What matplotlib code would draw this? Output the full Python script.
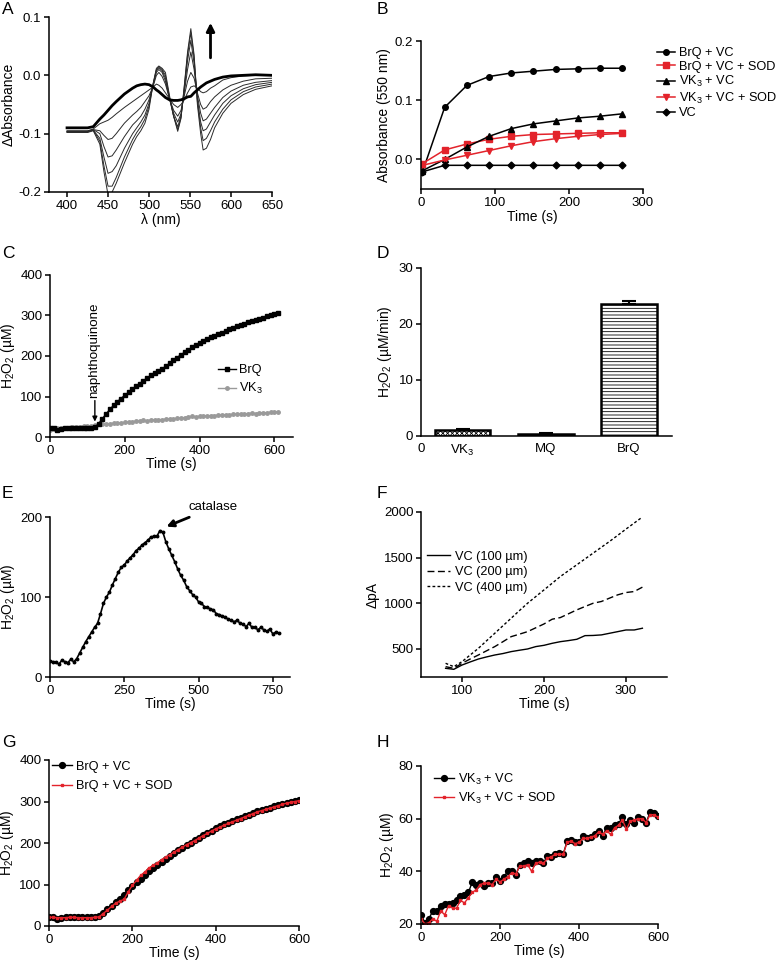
import numpy as np
import matplotlib
matplotlib.use("Agg")
import matplotlib.pyplot as plt

plt.rcParams.update({
    'font.family': ['Liberation Sans', 'DejaVu Sans'],
    'font.size': 9.5,
    'axes.labelsize': 10,
    'xtick.labelsize': 9.5,
    'ytick.labelsize': 9.5,
    'axes.linewidth': 1.1,
    'xtick.major.width': 1.1,
    'ytick.major.width': 1.1,
    'xtick.major.size': 3.5,
    'ytick.major.size': 3.5,
    'xtick.major.pad': 2,
    'ytick.major.pad': 2,
    'axes.unicode_minus': False,
    'mathtext.fontset': 'custom',
    'mathtext.rm': 'Liberation Sans',
    'mathtext.it': 'Liberation Sans:italic',
    'mathtext.bf': 'Liberation Sans:bold',
    'hatch.linewidth': 0.6,
})

RED = '#e3232b'
LEG_FS = 9.2

# ---------------- Panel A data ----------------
wl = [400, 425, 432, 440, 445, 450, 455, 460, 470, 480, 485, 490, 495, 500, 505, 509, 512, 516, 520, 525,
      530, 535, 539, 543, 547, 551, 555, 559, 563, 566, 570, 575, 580, 590, 600, 615, 630, 650]
spec_thick = [-0.090, -0.090, -0.088, -0.075, -0.068, -0.060, -0.052, -0.045, -0.032, -0.022,
              -0.018, -0.016, -0.015, -0.016, -0.020, -0.025, -0.028, -0.033, -0.038, -0.042,
              -0.043, -0.043, -0.042, -0.040, -0.037, -0.036, -0.030, -0.025, -0.020, -0.017,
              -0.013, -0.010, -0.007, -0.003, -0.001, 0.000, 0.001, 0.000]
spec_1 = [-0.095, -0.095, -0.092, -0.083, -0.080, -0.077, -0.072, -0.066, -0.055, -0.045,
          -0.040, -0.035, -0.030, -0.025, -0.020, -0.015, -0.017, -0.022, -0.030, -0.040,
          -0.050, -0.055, -0.050, -0.042, -0.030, -0.020, -0.018, -0.022, -0.028, -0.030,
          -0.028, -0.022, -0.018, -0.008, -0.004, -0.001, 0.000, 0.000]
spec_2 = [-0.096, -0.096, -0.093, -0.095, -0.103, -0.110, -0.108, -0.100, -0.082, -0.068,
          -0.062, -0.055, -0.045, -0.035, -0.019, 0.000, 0.005, -0.002, -0.015, -0.040,
          -0.060, -0.070, -0.060, -0.035, -0.010, 0.005, -0.005, -0.030, -0.050, -0.058,
          -0.055, -0.045, -0.037, -0.025, -0.017, -0.010, -0.006, -0.005]
spec_3 = [-0.096, -0.096, -0.093, -0.100, -0.122, -0.140, -0.138, -0.128, -0.105, -0.085,
          -0.078, -0.070, -0.058, -0.042, -0.017, 0.005, 0.010, 0.005, -0.010, -0.040,
          -0.065, -0.080, -0.066, -0.030, 0.010, 0.040, 0.010, -0.035, -0.065, -0.078,
          -0.075, -0.065, -0.055, -0.038, -0.027, -0.017, -0.012, -0.009]
spec_4 = [-0.097, -0.097, -0.094, -0.108, -0.140, -0.168, -0.165, -0.155, -0.125, -0.100,
          -0.090, -0.080, -0.068, -0.048, -0.016, 0.008, 0.013, 0.008, -0.005, -0.040,
          -0.070, -0.088, -0.070, -0.025, 0.025, 0.060, 0.020, -0.040, -0.080, -0.095,
          -0.092, -0.080, -0.068, -0.048, -0.035, -0.023, -0.016, -0.012]
spec_5 = [-0.097, -0.097, -0.094, -0.113, -0.155, -0.190, -0.190, -0.175, -0.140, -0.110,
          -0.098, -0.088, -0.075, -0.053, -0.015, 0.010, 0.015, 0.010, 0.000, -0.038,
          -0.070, -0.093, -0.072, -0.020, 0.035, 0.073, 0.030, -0.045, -0.090, -0.112,
          -0.108, -0.095, -0.080, -0.058, -0.042, -0.028, -0.020, -0.015]
spec_6 = [-0.098, -0.098, -0.095, -0.118, -0.165, -0.205, -0.200, -0.185, -0.150, -0.118,
          -0.105, -0.095, -0.082, -0.058, -0.014, 0.012, 0.016, 0.012, 0.005, -0.035,
          -0.070, -0.096, -0.074, -0.018, 0.040, 0.080, 0.035, -0.050, -0.100, -0.128,
          -0.125, -0.110, -0.090, -0.065, -0.048, -0.033, -0.024, -0.018]

# ---------------- Panel B data ----------------
tB = [2, 32, 62, 92, 122, 152, 182, 212, 242, 272]
B_brq_vc = [-0.021, 0.088, 0.125, 0.140, 0.146, 0.149, 0.152, 0.153, 0.154, 0.154]
B_brq_vc_sod = [-0.007, 0.016, 0.026, 0.034, 0.039, 0.042, 0.043, 0.044, 0.045, 0.045]
B_vk3_vc = [-0.019, 0.000, 0.021, 0.039, 0.052, 0.060, 0.065, 0.070, 0.073, 0.077]
B_vk3_vc_sod = [-0.010, -0.001, 0.007, 0.015, 0.023, 0.030, 0.035, 0.039, 0.042, 0.044]
B_vc = [-0.021, -0.010, -0.010, -0.010, -0.010, -0.010, -0.010, -0.010, -0.010, -0.010]

# ---------------- Panel C data ----------------
tC = list(range(0, 611, 10))
C_brq = [22, 21, 18, 20, 21, 21, 21, 22, 22, 22,
         23, 23, 24, 33, 45, 57, 68, 78, 87, 95,
         103, 110, 118, 125, 132, 139, 146, 152, 157, 162,
         168, 175, 182, 189, 196, 203, 209, 215, 221, 227,
         232, 237, 242, 246, 250, 254, 258, 262, 266, 270,
         274, 277, 280, 283, 286, 289, 292, 295, 298, 300,
         303, 305]
C_vk3 = [18, 20, 21, 22, 23, 23, 24, 25, 25, 26,
         27, 28, 30, 31, 32, 33, 33, 34, 35, 35,
         36, 37, 38, 39, 40, 41, 40, 42, 42, 43,
         43, 44, 45, 45, 46, 47, 48, 50, 51, 50,
         51, 52, 52, 53, 53, 54, 54, 55, 55, 56,
         56, 57, 57, 58, 59, 58, 59, 60, 60, 61,
         62, 62]

# ---------------- Panel D data ----------------
D_cats = ['VK$_3$', 'MQ', 'BrQ']
D_vals = [1.1, 0.4, 23.5]
D_err = [0.15, 0.15, 0.6]

# ---------------- Panel E data ----------------
tE = list(range(0, 771, 10))
E_h2o2 = [20, 19, 19, 16, 21, 19, 18, 22, 19, 23,
          30, 37, 44, 50, 56, 62, 67, 79, 92, 100,
          106, 115, 123, 131, 137, 140, 145, 149, 153, 158,
          161, 165, 168, 171, 175, 176, 176, 183, 181, 169,
          160, 152, 144, 135, 127, 121, 113, 108, 103, 100,
          94, 92, 88, 87, 85, 84, 79, 78, 76, 75,
          72, 71, 69, 71, 67, 66, 63, 67, 62, 62,
          59, 62, 59, 57, 60, 54, 56, 55]

# ---------------- Panel F data ----------------
tF = list(range(80, 321, 10))
F_vc100 = [288, 277, 324, 358, 390, 413, 434, 450, 471, 486, 500, 526, 540,
           562, 580, 592, 606, 646, 648, 654, 672, 690, 708, 708, 727]
F_vc200 = [306, 288, 343, 390, 434, 480, 526, 580, 635, 662, 690, 732, 774,
           826, 844, 886, 928, 965, 1001, 1020, 1057, 1093, 1118, 1129, 1177]
F_vc400 = [343, 306, 361, 434, 507, 590, 672, 755, 837, 920, 1001, 1074, 1147,
           1220, 1294, 1358, 1422, 1486, 1550, 1614, 1678, 1745, 1813, 1879, 1945]

# ---------------- Panel G data ----------------
tG = list(range(0, 601, 10))
G_brq_vc = [22, 22, 18, 20, 21, 21, 21, 21, 22, 22,
            22, 22, 24, 32, 40, 48, 57, 66, 75, 86,
            96, 105, 114, 123, 132, 140, 148, 155, 162, 169,
            175, 182, 189, 195, 201, 207, 213, 219, 225, 230,
            236, 240, 245, 249, 253, 257, 261, 265, 268, 272,
            276, 279, 282, 285, 288, 291, 294, 297, 299, 301,
            303]
G_brq_vc_sod = [21, 21, 20, 20, 20, 21, 21, 20, 20, 20,
                20, 21, 22, 30, 38, 47, 55, 60, 64, 82,
                98, 110, 122, 130, 140, 146, 152, 160, 166, 172,
                178, 184, 190, 196, 201, 206, 212, 218, 223, 229,
                234, 238, 243, 247, 251, 255, 259, 263, 267, 271,
                275, 278, 281, 284, 287, 290, 293, 296, 298, 300,
                302]

# ---------------- Panel H data ----------------
tH = list(range(0, 601, 10))
H_vk3_vc = [23.5, 20.5, 22, 25, 25, 27, 27.5, 27.5, 28, 29,
            30.5, 31, 32, 36, 35, 35.5, 34.5, 35.5, 35.5, 38,
            36.5, 38, 40, 40, 38.5, 42.5, 43, 44, 43, 44,
            44, 43, 46, 45.5, 46.5, 47, 46.5, 51.5, 52, 51,
            51, 53.5, 52.5, 53, 54, 55.5, 53.5, 56.5, 56.5, 57.5,
            58, 60.5, 58, 59.5, 58.5, 60.5, 60, 58.5, 62.5, 62,
            61]
H_vk3_vc_sod = [22, 20, 20.5, 22, 21, 25, 23.5, 27, 26, 26,
                29, 28, 30, 32, 33, 35, 35.5, 35.5, 35, 37,
                36, 37, 38, 39.5, 39, 42, 42, 42.5, 40, 43,
                43.5, 43, 45, 45.5, 46.5, 46.5, 46.5, 51, 51.5, 50.5,
                51, 52.5, 52.5, 53, 53.5, 55, 54, 55.5, 54, 56.5,
                57.5, 59.5, 56, 59, 59.5, 60, 60, 58.5, 61.5, 61.5,
                60.5]

W, H = 777, 960
fig = plt.figure(figsize=(W / 100, H / 100), dpi=100)


def add_ax(l, r, t, b):
    ax = fig.add_axes([l / W, 1 - b / H, (r - l) / W, (b - t) / H])
    ax.spines['top'].set_visible(False)
    ax.spines['right'].set_visible(False)
    return ax


def letter(x, y, s):
    fig.text(x / W, 1 - y / H, s, fontsize=12.5, va='top', ha='left')


H2O2 = r'H$_2$O$_2$ (µM)'

# ---- A ----
axA = add_ax(49, 272, 17, 192)
for s in [spec_1, spec_2, spec_3, spec_4, spec_5, spec_6]:
    axA.plot(wl, s, color='#2a2a2a', lw=0.7)
axA.plot(wl, spec_thick, color='black', lw=2.0)
axA.set_xlim(378, 650)
axA.set_ylim(-0.2, 0.1)
axA.set_xticks([400, 450, 500, 550, 600, 650])
axA.set_yticks([-0.2, -0.1, 0.0, 0.1])
axA.set_yticklabels(['-0.2', '-0.1', '0.0', '0.1'])
axA.set_xlabel('λ (nm)', labelpad=1)
axA.set_ylabel('ΔAbsorbance', labelpad=2)
axA.annotate('', xy=(575, 0.09), xytext=(575, 0.03),
             arrowprops=dict(arrowstyle='-|>', lw=2, color='black', mutation_scale=12, shrinkA=0, shrinkB=0))
letter(2, 2, 'A')

# ---- B ----
axB = add_ax(421, 643, 41, 189)
axB.plot(tB, B_brq_vc, '-o', color='black', ms=4, lw=1.1, label='BrQ + VC')
axB.plot(tB, B_brq_vc_sod, '-s', color=RED, ms=4, lw=1.1, label='BrQ + VC + SOD')
axB.plot(tB, B_vk3_vc, '-^', color='black', ms=4, lw=1.1, label='VK$_3$ + VC')
axB.plot(tB, B_vk3_vc_sod, '-v', color=RED, ms=4, lw=1.1, label='VK$_3$ + VC + SOD')
axB.plot(tB, B_vc, '-D', color='black', ms=3.5, lw=1.1, label='VC')
axB.set_xlim(0, 300)
axB.set_ylim(-0.05, 0.2)
axB.set_xticks([0, 100, 200, 300])
axB.set_yticks([0.0, 0.1, 0.2])
axB.set_yticklabels(['0.0', '0.1', '0.2'])
axB.set_xlabel('Time (s)', labelpad=1)
axB.set_ylabel('Absorbance (550 nm)', labelpad=3)
fig.legend(*axB.get_legend_handles_labels(), loc='upper left', bbox_to_anchor=(657 / W, 1 - 47 / H),
           frameon=False, fontsize=LEG_FS, handlelength=1.4, handletextpad=0.3, labelspacing=0.12,
           borderaxespad=0, borderpad=0)
letter(377, 2, 'B')

# ---- C ----
axC = add_ax(50, 293, 275, 437)
axC.plot(tC, C_vk3, '-o', color='#9a9a9a', ms=2.5, lw=1.0, label='VK$_3$', zorder=2)
axC.plot(tC, C_brq, '-s', color='black', ms=3.2, lw=1.0, label='BrQ', zorder=3)
axC.set_xlim(0, 650)
axC.set_ylim(0, 400)
axC.set_xticks([0, 200, 400, 600])
axC.set_yticks([0, 100, 200, 300, 400])
axC.set_xlabel('Time (s)', labelpad=0)
axC.set_ylabel(H2O2, labelpad=2)
hC, lC = axC.get_legend_handles_labels()
axC.legend(hC[::-1], lC[::-1], loc='upper left', bbox_to_anchor=(0.69, 0.45), frameon=False, fontsize=LEG_FS,
           handlelength=1.4, handletextpad=0.3, labelspacing=0.4, borderaxespad=0, borderpad=0)
axC.annotate('', xy=(120, 38), xytext=(120, 90),
             arrowprops=dict(arrowstyle='-|>', lw=1.0, color='black', mutation_scale=7, shrinkA=0, shrinkB=0))
axC.text(118, 97, 'naphthoquinone', rotation=90, ha='center', va='bottom', fontsize=9.6)
letter(2, 246, 'C')

# ---- D ----
axD = add_ax(421, 672, 268, 436)
xpos = [0.5, 1.5, 2.5]
hatches = ['xxxxxxx', '---', '-----']
for x, v, e, h in zip(xpos, D_vals, D_err, hatches):
    axD.bar(x, v, width=0.67, facecolor='white', edgecolor='black', lw=1.8, hatch=h, zorder=2)
    axD.errorbar(x, v, yerr=[[0], [e]], fmt='none', ecolor='black', elinewidth=1.5, capsize=5, capthick=1.5, zorder=1)
axD.set_xlim(0, 3.02)
axD.set_ylim(0, 30)
axD.set_yticks([0, 10, 20, 30])
axD.set_xticks([0] + xpos)
axD.set_xticklabels(['0'] + D_cats)
axD.tick_params(axis='x', length=0, pad=5)
axD.set_ylabel(r'H$_2$O$_2$ (µM/min)', labelpad=3)
letter(377, 246, 'D')

# ---- E ----
axE = add_ax(50, 290, 517, 677)
axE.plot(tE, E_h2o2, '-o', color='black', ms=1.8, lw=1.2)
axE.set_xlim(0, 808)
axE.set_ylim(0, 200)
axE.set_xticks([0, 250, 500, 750])
axE.set_yticks([0, 100, 200])
axE.set_xlabel('Time (s)', labelpad=0)
axE.set_ylabel(H2O2, labelpad=2)
axE.annotate('catalase', xy=(392, 188), xytext=(467, 212), ha='left', va='center', fontsize=9.5,
             annotation_clip=False,
             arrowprops=dict(arrowstyle='-|>', lw=2.0, color='black', mutation_scale=10, shrinkA=2, shrinkB=0))
letter(2, 486, 'E')

# ---- F ----
axF = add_ax(421, 667, 512, 677)
axF.plot(tF, F_vc100, color='black', lw=1.0, ls='-', label='VC (100 µm)')
axF.plot(tF, F_vc200, color='black', lw=1.0, ls=(0, (5, 2.5)), label='VC (200 µm)')
axF.plot(tF, F_vc400, color='black', lw=1.0, ls=(0, (2, 1.6)), label='VC (400 µm)')
axF.set_xlim(50, 350)
axF.set_ylim(193, 2000)
axF.set_xticks([100, 200, 300])
axF.set_yticks([500, 1000, 1500, 2000])
axF.set_xlabel('Time (s)', labelpad=0)
axF.set_ylabel('ΔpA', labelpad=3)
axF.legend(loc='upper left', bbox_to_anchor=(0.025, 0.765), frameon=False, fontsize=LEG_FS,
           handlelength=1.8, handletextpad=0.4, labelspacing=0.28, borderaxespad=0, borderpad=0)
letter(377, 486, 'F')

# ---- G ----
axG = add_ax(49, 299, 760, 926)
axG.plot(tG, G_brq_vc, '-o', color='black', ms=4.2, lw=1.0, label='BrQ + VC')
axG.plot(tG, G_brq_vc_sod, '-s', color=RED, ms=1.8, lw=1.0, label='BrQ + VC + SOD')
axG.set_xlim(0, 600)
axG.set_ylim(0, 400)
axG.set_xticks([0, 200, 400, 600])
axG.set_yticks([0, 100, 200, 300, 400])
axG.set_xlabel('Time (s)', labelpad=0)
axG.set_ylabel(H2O2, labelpad=2)
axG.legend(loc='upper left', bbox_to_anchor=(0.012, 0.995), frameon=False, fontsize=LEG_FS,
           handlelength=1.6, handletextpad=0.3, labelspacing=0.6, borderaxespad=0, borderpad=0)
letter(2, 735, 'G')

# ---- H ----
axHh = add_ax(421, 658, 766, 924)
axHh.plot(tH, H_vk3_vc, '-o', color='black', ms=4.2, lw=1.0, label='VK$_3$ + VC')
axHh.plot(tH, H_vk3_vc_sod, '-s', color=RED, ms=1.8, lw=1.0, label='VK$_3$ + VC + SOD')
axHh.set_xlim(0, 600)
axHh.set_ylim(20, 80)
axHh.set_xticks([0, 200, 400, 600])
axHh.set_yticks([20, 40, 60, 80])
axHh.set_xlabel('Time (s)', labelpad=0)
axHh.set_ylabel(H2O2, labelpad=2)
axHh.legend(loc='upper left', bbox_to_anchor=(0.055, 0.965), frameon=False, fontsize=LEG_FS,
            handlelength=1.6, handletextpad=0.3, labelspacing=0.3, borderaxespad=0, borderpad=0)
letter(377, 735, 'H')

fig.savefig('out.png', dpi=100)
